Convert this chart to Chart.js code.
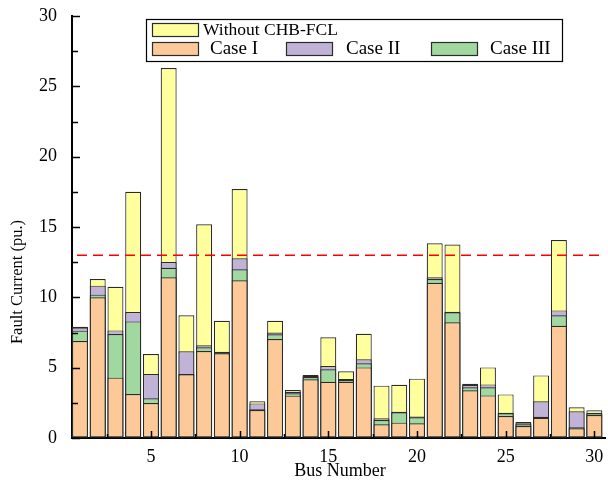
<!DOCTYPE html>
<html>
<head>
<meta charset="utf-8">
<script src="https://cdn.jsdelivr.net/npm/chart.js@4.4.1/dist/chart.umd.min.js"></script>
<style>
  html, body { margin: 0; padding: 0; background: #fff; }
  #wrap { width: 608px; height: 480px; }
</style>
</head>
<body>
<div id="wrap"><canvas id="faultChart" width="608" height="480"></canvas></div>
<script>
// bus numbers and fault currents (pu.)
const buses = [1,2,3,4,5,6,7,8,9,10,11,12,13,14,15,16,17,18,19,20,21,22,23,24,25,26,27,28,29,30];
const withoutFCL = [7.9, 11.3, 10.75, 17.5, 5.97, 26.3, 8.72, 15.2, 8.34, 17.7, 2.61, 8.34, 3.41, 4.48, 7.16, 4.74, 7.41, 3.72, 3.79, 4.22, 13.84, 13.76, 3.86, 5.02, 3.1, 1.14, 4.45, 14.07, 2.18, 1.97];
const caseII = [7.85, 10.83, 7.65, 8.95, 4.55, 12.51, 6.16, 6.59, 6.13, 12.77, 2.46, 7.5, 3.29, 4.41, 5.12, 4.19, 5.59, 1.4, 1.87, 1.52, 11.42, 8.98, 3.77, 3.81, 1.8, 1.04, 2.61, 9.07, 1.9, 1.8];
const caseIII = [7.63, 10.19, 7.39, 8.29, 2.82, 12.1, 4.55, 6.45, 6.08, 11.99, 2.05, 7.37, 3.18, 4.34, 4.88, 4.12, 5.31, 1.28, 1.83, 1.48, 11.3, 8.93, 3.6, 3.6, 1.76, 0.97, 1.51, 8.72, 0.76, 1.75];
const caseI = [6.89, 10.0, 4.29, 3.13, 2.49, 11.42, 4.52, 6.18, 6.02, 11.21, 1.99, 7.04, 3.01, 4.17, 4.0, 4.0, 5.02, 0.97, 1.09, 1.04, 11.04, 8.22, 3.39, 3.03, 1.56, 0.85, 1.44, 7.98, 0.69, 1.63];
const xTicks = [5, 10, 15, 20, 25, 30];
const limitValue = 13;

const serif = "'Liberation Serif', 'Times New Roman', serif";

function toPoints(vals) {
  return vals.map((v, i) => ({ x: buses[i], y: v }));
}

function barSet(label, vals, color, order) {
  return {
    label: label,
    data: toPoints(vals),
    backgroundColor: color,
    borderColor: "#2b2b2b",
    borderWidth: 1.2,
    borderSkipped: false,
    grouped: false,
    barPercentage: 0.9,
    categoryPercentage: 1,
    order: order,
  };
}

// ticks pointing inward, red limit line, axis titles, legend box
const extras = {
  id: "extras",
  afterDatasetsDraw(chart) {
    const ctx = chart.ctx;
    const xs = chart.scales.x;
    const ys = chart.scales.y;
    const area = chart.chartArea;
    ctx.save();

    // dashed limit
    const yl = ys.getPixelForValue(limitValue);
    ctx.strokeStyle = "#ff0000";
    ctx.lineWidth = 1.5;
    ctx.setLineDash([10, 6]);
    ctx.beginPath();
    ctx.moveTo(area.left + 5, yl);
    ctx.lineTo(area.right, yl);
    ctx.stroke();
    ctx.setLineDash([]);

    // inner ticks
    ctx.strokeStyle = "#000";
    ctx.lineWidth = 1.5;
    for (let v = 0; v <= 30; v += 2.5) {
      const py = Math.round(ys.getPixelForValue(v)) + 0.5;
      const len = v % 5 === 0 ? 8 : 6;
      ctx.beginPath();
      ctx.moveTo(area.left, py);
      ctx.lineTo(area.left + len, py);
      ctx.stroke();
    }
    for (let v = 2.5; v <= 30; v += 2.5) {
      const px = Math.round(xs.getPixelForValue(v)) + 0.5;
      const len = v % 5 === 0 ? 7 : 4;
      ctx.beginPath();
      ctx.moveTo(px, area.bottom);
      ctx.lineTo(px, area.bottom - len);
      ctx.stroke();
    }

    // axis titles
    ctx.fillStyle = "#000";
    ctx.font = "18px " + serif;
    ctx.textAlign = "center";
    ctx.textBaseline = "middle";
    ctx.fillText("Bus Number", 340, 471);
    ctx.save();
    ctx.translate(18, 282);
    ctx.rotate(-Math.PI / 2);
    ctx.font = "16.5px " + serif;
    ctx.fillText("Fault Current (pu.)", 0, 0);
    ctx.restore();

    // legend
    ctx.fillStyle = "#fff";
    ctx.fillRect(146, 19, 417, 43);
    ctx.strokeStyle = "#000";
    ctx.lineWidth = 1.2;
    ctx.strokeRect(146.5, 19.5, 416, 42);
    const items = [
      { ds: 0, label: "Without CHB-FCL", sx: 152, sy: 23, tx: 203, size: 17.5 },
      { ds: 3, label: "Case I", sx: 152, sy: 42, tx: 210, size: 19 },
      { ds: 1, label: "Case II", sx: 286, sy: 42, tx: 346, size: 19 },
      { ds: 2, label: "Case III", sx: 431, sy: 42, tx: 490, size: 19 },
    ];
    items.forEach((it) => {
      const ds = chart.data.datasets[it.ds];
      ctx.fillStyle = ds.backgroundColor;
      ctx.fillRect(it.sx, it.sy, 47, 14);
      ctx.strokeStyle = "#2b2b2b";
      ctx.strokeRect(it.sx + 0.5, it.sy + 0.5, 46, 13);
      ctx.fillStyle = "#000";
      ctx.font = it.size + "px " + serif;
      ctx.textAlign = "left";
      ctx.textBaseline = "middle";
      ctx.fillText(it.label, it.tx, it.sy + 7.5);
    });

    ctx.restore();
  },
};

new Chart(document.getElementById("faultChart").getContext("2d"), {
  type: "bar",
  data: {
    datasets: [
      barSet("Without CHB-FCL", withoutFCL, "#ffff9e", 4),
      barSet("Case II", caseII, "#c1b3d8", 3),
      barSet("Case III", caseIII, "#a0d8a0", 2),
      barSet("Case I", caseI, "#fdc998", 1),
    ],
  },
  options: {
    responsive: false,
    animation: false,
    layout: { padding: { left: 0, top: 16, right: 3, bottom: 0 } },
    plugins: { legend: { display: false }, tooltip: { enabled: false } },
    scales: {
      x: {
        type: "linear",
        min: 0.55,
        max: 30.6,
        offset: false,
        afterBuildTicks: (s) => { s.ticks = xTicks.map((v) => ({ value: v })); },
        afterFit: (s) => {
          s.height = 42;
          s.paddingLeft = 0;
          s.paddingRight = 0;
        },
        grid: { display: true, drawOnChartArea: false, drawTicks: false },
        border: { display: true, color: "#000", width: 2 },
        ticks: {
          autoSkip: false,
          maxRotation: 0,
          padding: 8,
          color: "#000",
          font: { family: serif, size: 18 },
        },
      },
      y: {
        min: 0,
        max: 30,
        afterFit: (s) => {
          s.width = 72;
          s.paddingTop = 0;
          s.paddingBottom = 0;
        },
        grid: { display: true, drawOnChartArea: false, drawTicks: false },
        border: { display: true, color: "#000", width: 2 },
        ticks: {
          stepSize: 5,
          padding: 15,
          color: "#000",
          font: { family: serif, size: 18 },
        },
      },
    },
  },
  plugins: [extras],
});
</script>
</body>
</html>
